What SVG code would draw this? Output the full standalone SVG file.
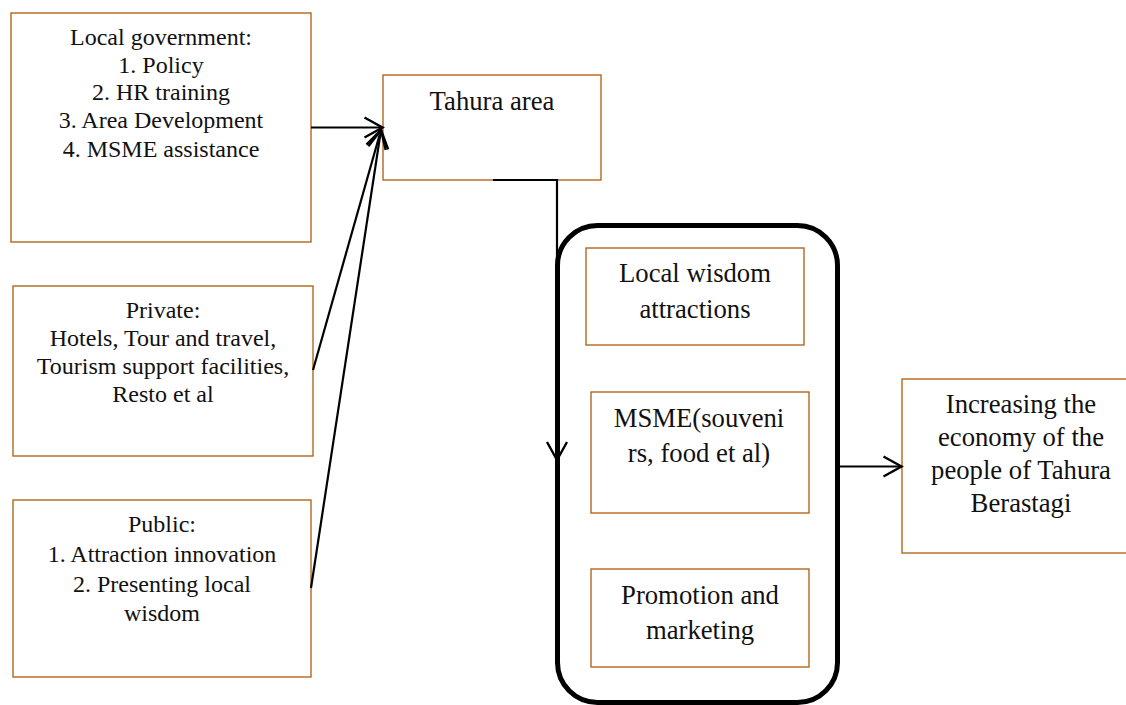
<svg xmlns="http://www.w3.org/2000/svg" width="1126" height="705" viewBox="0 0 1126 705">
<style>
.box{fill:#fff;stroke:#B5651D;stroke-width:1.4}
.s{font-family:"Liberation Serif","Times New Roman",serif;font-size:24px;fill:#111;text-anchor:middle}
.l{font-family:"Liberation Serif","Times New Roman",serif;font-size:26.7px;fill:#111;text-anchor:middle}
.c{fill:none;stroke:#000;stroke-width:2.2}
</style>
<defs>
<marker id="arr" viewBox="-22 -12 24 24" refX="0" refY="0" markerWidth="24" markerHeight="24" markerUnits="userSpaceOnUse" orient="auto">
<path d="M-18,-10 L0,0 L-18,10" fill="none" stroke="#000" stroke-width="2.4"/>
</marker>
</defs>
<rect x="0" y="0" width="1126" height="705" fill="#fff"/>
<g id="container">
<rect x="557.5" y="225.5" width="280" height="477" rx="40" ry="40" fill="none" stroke="#000" stroke-width="5"/>
</g>
<g id="local-government">
<rect class="box" x="11" y="13" width="300" height="229"/>
<text class="s" x="161" y="45">Local government:</text>
<text class="s" x="161" y="73">1. Policy</text>
<text class="s" x="161" y="100">2. HR training</text>
<text class="s" x="161" y="128">3. Area Development</text>
<text class="s" x="161" y="157">4. MSME assistance</text>
</g>
<g id="private">
<rect class="box" x="13" y="286" width="300" height="170"/>
<text class="s" x="163" y="318">Private:</text>
<text class="s" x="163" y="346">Hotels, Tour and travel,</text>
<text class="s" x="163" y="374">Tourism support facilities,</text>
<text class="s" x="163" y="402">Resto et al</text>
</g>
<g id="public">
<rect class="box" x="13" y="500" width="298" height="177"/>
<text class="s" x="162" y="532">Public:</text>
<text class="s" x="162" y="562">1. Attraction innovation</text>
<text class="s" x="162" y="592">2. Presenting local</text>
<text class="s" x="162" y="621">wisdom</text>
</g>
<g id="tahura-area">
<rect class="box" x="383" y="75" width="218" height="105"/>
<text class="l" x="492" y="110">Tahura area</text>
</g>
<g id="local-wisdom">
<rect class="box" x="586" y="248" width="218" height="97"/>
<text class="l" x="695" y="282">Local wisdom</text>
<text class="l" x="695" y="318">attractions</text>
</g>
<g id="msme">
<rect class="box" x="591" y="392" width="218" height="121"/>
<text class="l" x="699" y="427">MSME(souveni</text>
<text class="l" x="699" y="462">rs, food et al)</text>
</g>
<g id="promotion">
<rect class="box" x="591" y="569" width="218" height="98"/>
<text class="l" x="700" y="604">Promotion and</text>
<text class="l" x="700" y="639">marketing</text>
</g>
<g id="economy">
<rect class="box" x="902" y="379" width="240" height="174"/>
<text class="l" x="1021" y="413">Increasing the</text>
<text class="l" x="1021" y="446">economy of the</text>
<text class="l" x="1021" y="479">people of Tahura</text>
<text class="l" x="1021" y="512">Berastagi</text>
</g>
<g id="connectors">
<path class="c" d="M311,127.5 L382.5,127.5" marker-end="url(#arr)"/>
<path class="c" d="M313,370 L381,130" marker-end="url(#arr)"/>
<path class="c" d="M311,588 L381,130" marker-end="url(#arr)"/>
<path class="c" d="M493,180 L557,180 L557,460" marker-end="url(#arr)"/>
<path class="c" d="M840,466.5 L901.5,466.5" marker-end="url(#arr)"/>
</g>
</svg>
